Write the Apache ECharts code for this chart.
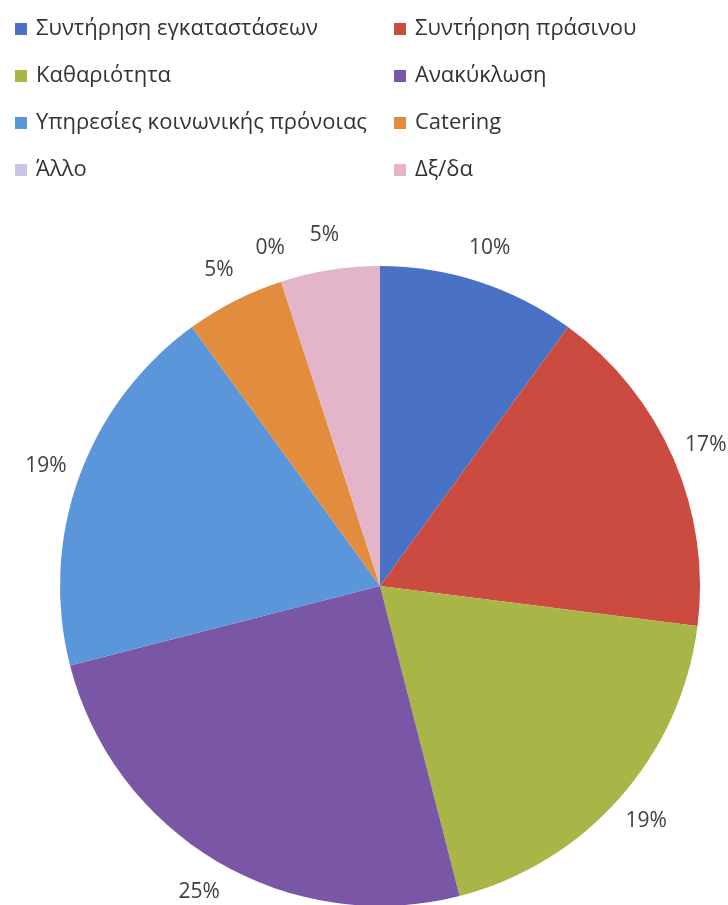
<!DOCTYPE html>
<html>
<head>
<meta charset="utf-8">
<script src="https://cdn.jsdelivr.net/npm/echarts@6/dist/echarts.min.js"></script>
<style>
  html, body { margin: 0; padding: 0; background: #fff; }
</style>
</head>
<body>
<div id="pieChart" style="width: 728px; height: 905px;"></div>
<script>
// κατηγορίες και ποσοστά (διαβασμένα από τις ετικέτες)
const categories = [
  'Συντήρηση εγκαταστάσεων',
  'Συντήρηση πράσινου',
  'Καθαριότητα',
  'Ανακύκλωση',
  'Υπηρεσίες κοινωνικής πρόνοιας',
  'Catering',
  'Άλλο',
  'Δξ/δα'
];
const values = [10, 17, 19, 25, 19, 5, 0, 5];
const colors = ['#4a72c4', '#cb4b40', '#a9b647', '#7a57a6', '#5b96da', '#e28d3e', '#c8c6e6', '#e4b4ca'];

const font = '"Open Sans", "Noto Sans", sans-serif';

// δύο στήλες στο υπόμνημα
const leftCol = categories.filter((c, i) => i % 2 === 0);
const rightCol = categories.filter((c, i) => i % 2 === 1);

function legendCol(data, left) {
  return {
    data: data,
    orient: 'vertical',
    left: left,
    top: 12,
    icon: 'rect',
    itemWidth: 12,
    itemHeight: 12,
    itemGap: 23,
    selectedMode: false,
    textStyle: {
      fontFamily: font,
      fontSize: 22,
      lineHeight: 24,
      color: '#333',
      padding: [0, 0, 0, 4]
    }
  };
}

const pieData = categories.map((name, i) => ({ name: name, value: values[i] }));

const chart = echarts.init(document.getElementById('pieChart'));
const option = {
  animation: false,
  color: colors,
  legend: [legendCol(leftCol, 10), legendCol(rightCol, 389)],
  series: [
    {
      type: 'pie',
      center: [380, 586],
      radius: 320,
      startAngle: 90,
      clockwise: true,
      data: pieData,
      label: { show: false },
      labelLine: { show: false },
      itemStyle: { borderWidth: 0 },
      emphasis: { disabled: true }
    },
    {
      // διάφανος δακτύλιος μόνο για τις ετικέτες ποσοστών
      type: 'pie',
      center: [380, 586],
      radius: [336, 368],
      startAngle: 90,
      clockwise: true,
      silent: true,
      data: pieData,
      itemStyle: { color: 'transparent', borderWidth: 0 },
      label: {
        show: true,
        position: 'inside',
        formatter: '{d}%',
        fontFamily: font,
        fontSize: 21,
        color: '#404040'
      },
      labelLine: { show: false },
      emphasis: { disabled: true }
    }
  ]
};
chart.setOption(option);
</script>
</body>
</html>
